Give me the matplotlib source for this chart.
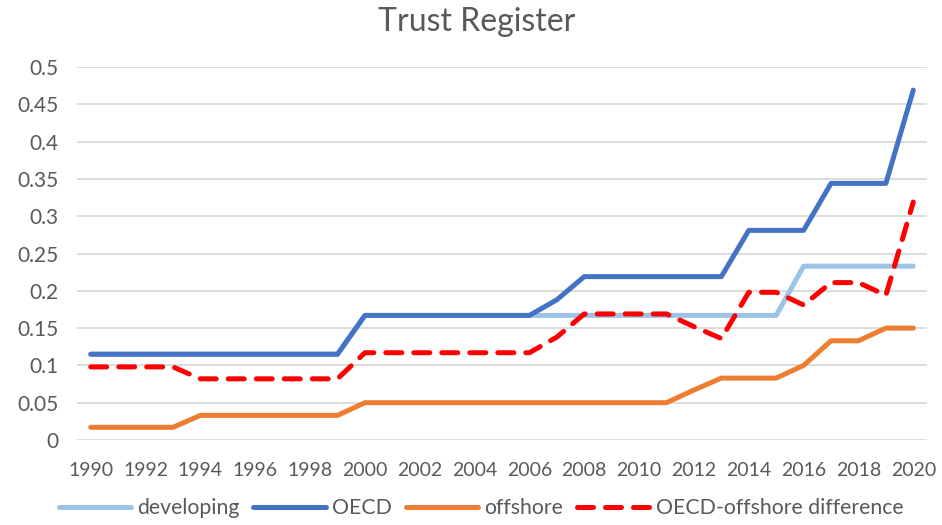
import matplotlib
matplotlib.use("Agg")
import matplotlib.pyplot as plt
import numpy as np

years = list(range(1990, 2021))
developing = [0.115]*10 + [0.167]*16 + [0.233]*5
oecd = [0.115]*10 + [0.167]*7 + [0.188] + [0.219]*6 + [0.281]*3 + [0.344]*3 + [0.469]
offshore = [0.017]*4 + [0.033]*6 + [0.05]*12 + [0.067, 0.083, 0.083, 0.083, 0.1, 0.133, 0.133, 0.15, 0.15]
difference = [o - f for o, f in zip(oecd, offshore)]

title = "Trust Register"
series_names = ["developing", "OECD", "offshore", "OECD-offshore difference"]
yticks = [0, 0.05, 0.1, 0.15, 0.2, 0.25, 0.3, 0.35, 0.4, 0.45, 0.5]
ytick_labels = ["0", "0.05", "0.1", "0.15", "0.2", "0.25", "0.3", "0.35", "0.4", "0.45", "0.5"]
xtick_years = list(range(1990, 2021, 2))

plt.rcParams['font.family'] = ['Lato', 'DejaVu Sans']
txt = '#595959'

fig = plt.figure(figsize=(9.42, 5.25), dpi=100)
ax = fig.add_axes([77/942, 1-440/525, 850/942, 373/525])

lw = 3.6
ax.plot(years, developing, color='#9DC3E6', lw=lw, solid_joinstyle='round', solid_capstyle='round', label=series_names[0], zorder=3)
ax.plot(years, oecd, color='#4472C4', lw=lw, solid_joinstyle='round', solid_capstyle='round', label=series_names[1], zorder=4)
ax.plot(years, offshore, color='#ED7D31', lw=lw, solid_joinstyle='round', solid_capstyle='round', label=series_names[2], zorder=3)
ax.plot(years, difference, color='#FF0000', lw=lw, dashes=(3.2, 2.4), dash_capstyle='round',
        dash_joinstyle='round', label=series_names[3], zorder=5)

ax.set_xlim(1989.5, 2020.5)
ax.set_ylim(0, 0.5)
ax.set_yticks(yticks)
ax.set_yticklabels(ytick_labels)
ax.set_xticks(xtick_years)
ax.set_xticklabels([str(y) for y in xtick_years])
ax.yaxis.grid(True, color='#D9D9D9', lw=1.3)
ax.set_axisbelow(True)
for s in ax.spines.values():
    s.set_visible(False)
ax.tick_params(axis='x', length=0, labelsize=14, colors=txt, pad=16)
ax.tick_params(axis='y', length=0, labelsize=15, colors=txt, pad=13)

fig.text(477/942, 1-22/525, title, ha='center', va='center', fontsize=23, color=txt)

fig.legend(loc='center', bbox_to_anchor=(481/942, 1-508/525), ncol=4, frameon=False,
           fontsize=15.3, labelcolor=txt, handlelength=3.4, columnspacing=0.65, handletextpad=0.3)

fig.savefig('out.png', dpi=100)
